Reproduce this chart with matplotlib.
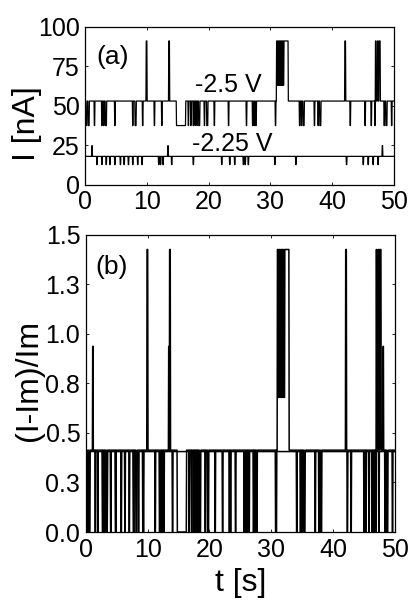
import matplotlib
matplotlib.use("Agg")
import matplotlib.pyplot as plt
import numpy as np

plt.rcParams['font.family'] = ['Liberation Sans', 'DejaVu Sans']

# levels of the two telegraph traces [nA]
levels_25 = {'base': 53.0, 'low': 37.5, 'mid': 63.0, 'high': 91.0}
levels_225 = {'base': 18.0, 'low': 12.8, 'high': 24.8}

# -2.5 V: intervals (start, end) in s spent in each state
dips_25 = [(0.1, 0.3), (0.5, 0.7), (1.5, 1.6), (2.7, 2.8), (3.0, 3.1), (3.3, 3.5),
           (4.8, 4.9), (7.7, 7.8), (8.1, 8.3), (9.3, 9.4), (11.2, 11.3), (12.4, 12.5),
           (14.8, 16.3), (16.7, 16.8), (17.1, 17.2), (17.5, 17.6), (17.8, 17.9),
           (18.1, 18.2), (18.4, 18.6), (19.3, 19.4), (19.7, 19.9), (20.9, 21.0),
           (23.2, 23.3), (26.1, 26.2), (27.1, 27.2), (27.35, 27.45), (27.6, 27.75),
           (30.8, 30.9), (34.7, 34.8), (35.0, 35.1), (35.3, 35.5), (37.1, 37.2),
           (37.7, 37.8), (38.0, 38.2), (42.9, 43.0), (45.3, 45.4), (46.3, 46.4),
           (46.9, 47.0), (48.4, 48.5), (48.7, 48.9), (49.6, 49.7)]
highs_25 = [(9.9, 10.05), (13.55, 13.7), (31.0, 32.9), (42.05, 42.2),
            (47.0, 47.1), (47.3, 47.45), (47.6, 47.8)]
chatter_25 = [(31.1, 31.2), (31.3, 31.4), (31.5, 31.6), (31.7, 31.8),
              (31.9, 32.0), (32.1, 32.2)]

# -2.25 V: single-sample dips and spikes (s)
dips_225 = [1.9, 2.7, 3.4, 4.0, 4.8, 5.7, 6.3, 7.0, 7.7, 8.5, 9.2, 11.9, 12.2,
            12.6, 14.0, 17.5, 22.1, 23.4, 24.2, 25.6, 25.9, 26.4, 30.7, 34.1,
            42.3, 45.0, 45.8, 46.6, 47.4]
spikes_225 = [1.1, 13.4, 48.1]

b_ticks = [0.0, 0.25, 0.5, 0.75, 1.0, 1.25, 1.5]
b_ticklabels = ['0.0', '0.3', '0.5', '0.8', '1.0', '1.3', '1.5']

t = np.arange(0, 50.001, 0.05)

I25 = np.full_like(t, levels_25['base'])
for a, b in dips_25:
    I25[(t >= a) & (t < b)] = levels_25['low']
for a, b in highs_25:
    I25[(t >= a) & (t < b)] = levels_25['high']
for a, b in chatter_25:
    I25[(t >= a) & (t < b)] = levels_25['mid']

I225 = np.full_like(t, levels_225['base'])
for a in dips_225:
    I225[(t >= a) & (t < a + 0.1)] = levels_225['low']
for a in spikes_225:
    I225[(t >= a) & (t < a + 0.1)] = levels_225['high']

fig = plt.figure(figsize=(4.13, 6.08), dpi=100)
ax1 = fig.add_axes([0.206, 0.696, 0.748, 0.26])
ax2 = fig.add_axes([0.208, 0.125, 0.748, 0.4885])

ax1.plot(t, I25, color='black', lw=0.9)
ax1.plot(t, I225, color='black', lw=0.9)
ax1.set_xlim(0, 50)
ax1.set_ylim(0, 100)
ax1.set_xticks([0, 10, 20, 30, 40, 50])
ax1.set_yticks([0, 25, 50, 75, 100])
ax1.set_ylabel('I [nA]', fontsize=23)
ax1.yaxis.set_label_coords(-0.139, 0.39)
ax1.text(1.9, 81, '(a)', fontsize=19, va='center')
ax1.text(17.8, 63, '-2.5 V', fontsize=18, va='center')
ax1.text(17.3, 26, '-2.25 V', fontsize=18, va='center')

# normalised traces (I - Im)/Im with Im the lower level
n25 = (I25 - levels_25['low']) / levels_25['low']
n225 = (I225 - levels_225['low']) / levels_225['low']
ax2.plot(t, n25, color='black', lw=1.1)
ax2.plot(t, n225, color='black', lw=1.1)
ax2.set_xlim(0, 50)
ax2.set_ylim(0, 1.5)
ax2.set_xticks([0, 10, 20, 30, 40, 50])
ax2.set_yticks(b_ticks)
ax2.set_yticklabels(b_ticklabels)
ax2.set_ylabel('(I-Im)/Im', fontsize=23)
ax2.yaxis.set_label_coords(-0.136, 0.51)
ax2.set_xlabel('t [s]', fontsize=23, labelpad=5)
ax2.text(1.5, 1.34, '(b)', fontsize=19, va='center')

for ax in (ax1, ax2):
    ax.tick_params(direction='in', length=2, width=0.6, labelsize=18, pad=4,
                   top=True, right=True)
    for s in ax.spines.values():
        s.set_linewidth(0.9)

fig.savefig('out.png', dpi=100)
